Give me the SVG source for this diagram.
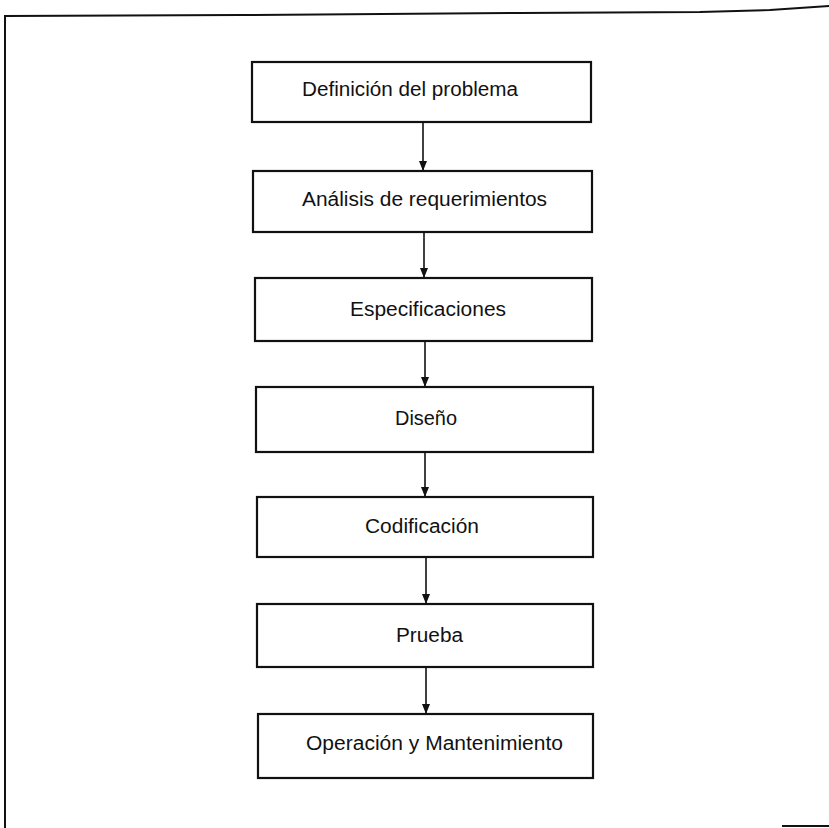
<svg xmlns="http://www.w3.org/2000/svg" width="829" height="828" viewBox="0 0 829 828">
  <style>
    .frame { fill: none; stroke: #111; stroke-width: 2; }
    .box { fill: #fff; stroke: #111; stroke-width: 2.2; }
    .label { font-family: "Liberation Sans", Arial, sans-serif; font-size: 20px; fill: #111; }
    .link { fill: none; stroke: #111; stroke-width: 1.6; marker-end: url(#arrow); }
  </style>
  <defs>
    <marker id="arrow" markerUnits="userSpaceOnUse" markerWidth="10" markerHeight="10" viewBox="0 0 10 10" refX="10" refY="5" orient="auto">
      <path d="M0,1 L10,5 L0,9 Z" fill="#111"/>
    </marker>
  </defs>
  <rect width="829" height="828" fill="#fff"/>

  <!-- page frame -->
  <g id="frame">
    <polyline class="frame" points="5,828 5,16 240,15 520,13 700,12 770,10 829,6"/>
    <line class="frame" x1="782" y1="826" x2="829" y2="826"/>
  </g>

  <!-- connectors -->
  <g id="connectors">
    <line class="link" x1="423" y1="123" x2="423" y2="171"/>
    <line class="link" x1="424" y1="233" x2="424" y2="278"/>
    <line class="link" x1="425" y1="342" x2="425" y2="387"/>
    <line class="link" x1="425" y1="453" x2="425" y2="497"/>
    <line class="link" x1="426" y1="558" x2="426" y2="604"/>
    <line class="link" x1="426" y1="668" x2="426" y2="714"/>
  </g>

  <g id="n1">
    <rect class="box" x="252" y="62" width="339" height="60"/>
    <text class="label" x="302" y="96" textLength="216" lengthAdjust="spacingAndGlyphs">Definición del problema</text>
  </g>
  <g id="n2">
    <rect class="box" x="253" y="171" width="339" height="61"/>
    <text class="label" x="302" y="206" textLength="245" lengthAdjust="spacingAndGlyphs">Análisis de requerimientos</text>
  </g>
  <g id="n3">
    <rect class="box" x="255" y="278" width="337" height="63"/>
    <text class="label" x="350" y="316" textLength="156" lengthAdjust="spacingAndGlyphs">Especificaciones</text>
  </g>
  <g id="n4">
    <rect class="box" x="256" y="387" width="337" height="65"/>
    <text class="label" x="395" y="425" textLength="62" lengthAdjust="spacingAndGlyphs">Diseño</text>
  </g>
  <g id="n5">
    <rect class="box" x="257" y="497" width="336" height="60"/>
    <text class="label" x="365" y="533" textLength="114" lengthAdjust="spacingAndGlyphs">Codificación</text>
  </g>
  <g id="n6">
    <rect class="box" x="257" y="604" width="336" height="63"/>
    <text class="label" x="396" y="642" textLength="67" lengthAdjust="spacingAndGlyphs">Prueba</text>
  </g>
  <g id="n7">
    <rect class="box" x="258" y="714" width="335" height="64"/>
    <text class="label" x="306" y="750" textLength="257" lengthAdjust="spacingAndGlyphs">Operación y Mantenimiento</text>
  </g>
</svg>
